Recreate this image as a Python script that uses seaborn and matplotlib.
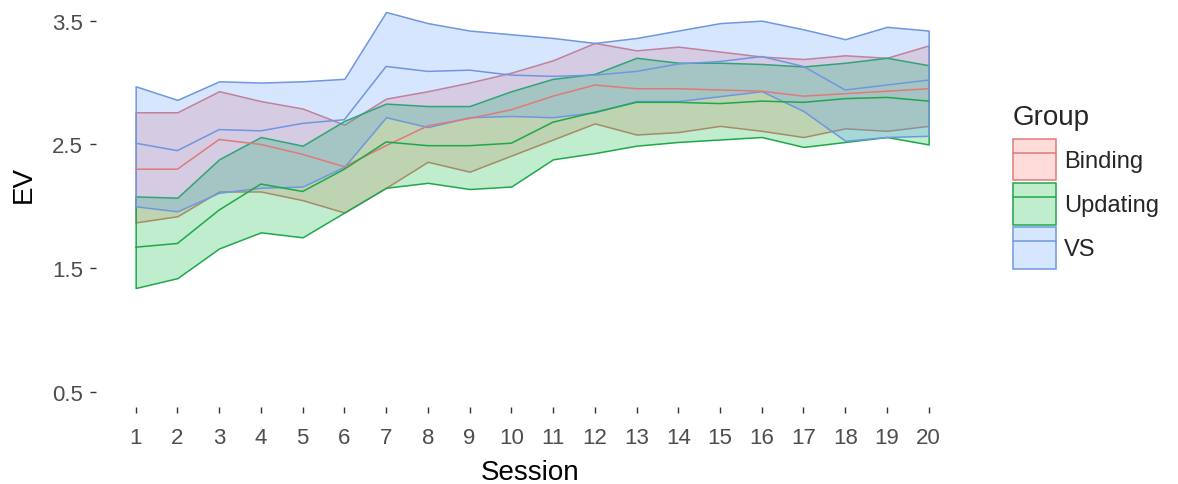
import pandas as pd
import matplotlib
matplotlib.use("Agg")
import matplotlib.pyplot as plt
import seaborn as sns
from matplotlib.patches import Patch
from matplotlib.lines import Line2D

# data
sessions = list(range(1, 21))
groups = ["Binding", "Updating", "VS"]
fill_colors = ["#F8766D", "#00BA38", "#619CFF"]
line_colors = ["#E07A7A", "#1FA84A", "#6F97E0"]

binding_mean = [2.30, 2.30, 2.54, 2.50, 2.42, 2.32, 2.49, 2.65, 2.71, 2.78,
                2.89, 2.98, 2.95, 2.95, 2.94, 2.93, 2.89, 2.91, 2.93, 2.95]
binding_upper = [2.76, 2.76, 2.93, 2.85, 2.79, 2.66, 2.87, 2.93, 3.00, 3.08,
                 3.18, 3.32, 3.26, 3.29, 3.25, 3.21, 3.19, 3.22, 3.20, 3.30]
binding_lower = [1.87, 1.92, 2.12, 2.12, 2.05, 1.95, 2.15, 2.36, 2.28, 2.41,
                 2.54, 2.67, 2.58, 2.60, 2.65, 2.61, 2.56, 2.63, 2.61, 2.65]

updating_mean = [1.67, 1.70, 1.97, 2.18, 2.12, 2.30, 2.52, 2.49, 2.49, 2.51,
                 2.68, 2.76, 2.84, 2.84, 2.83, 2.85, 2.84, 2.87, 2.88, 2.85]
updating_upper = [2.08, 2.07, 2.38, 2.56, 2.49, 2.69, 2.83, 2.81, 2.81, 2.93,
                  3.03, 3.07, 3.20, 3.16, 3.16, 3.15, 3.13, 3.16, 3.20, 3.14]
updating_lower = [1.34, 1.42, 1.66, 1.79, 1.75, 1.95, 2.15, 2.19, 2.14, 2.16,
                  2.38, 2.43, 2.49, 2.52, 2.54, 2.56, 2.48, 2.52, 2.56, 2.50]

vs_mean = [2.51, 2.45, 2.62, 2.61, 2.67, 2.70, 3.13, 3.09, 3.10, 3.06,
           3.05, 3.06, 3.09, 3.15, 3.17, 3.21, 3.13, 2.94, 2.98, 3.02]
vs_upper = [2.97, 2.86, 3.01, 3.00, 3.01, 3.03, 3.57, 3.48, 3.42, 3.39,
            3.36, 3.32, 3.36, 3.42, 3.48, 3.50, 3.43, 3.35, 3.45, 3.42]
vs_lower = [2.00, 1.96, 2.11, 2.15, 2.16, 2.32, 2.72, 2.64, 2.72, 2.73,
            2.72, 2.76, 2.85, 2.85, 2.89, 2.93, 2.77, 2.53, 2.56, 2.57]

y_ticks = [0.5, 1.5, 2.5, 3.5]

# long table
means = [binding_mean, updating_mean, vs_mean]
uppers = [binding_upper, updating_upper, vs_upper]
lowers = [binding_lower, updating_lower, vs_lower]
rows = []
for g, m, u, l in zip(groups, means, uppers, lowers):
    for s, mv, uv, lv in zip(sessions, m, u, l):
        rows.append({"Session": s, "EV": mv, "upper": uv, "lower": lv, "Group": g})
df = pd.DataFrame(rows)

sns.set_style("white")
plt.rcParams["font.family"] = ["Liberation Sans", "DejaVu Sans"]

fig, ax = plt.subplots(figsize=(11.78, 4.85), dpi=100)
fig.subplots_adjust(left=0.0815, right=0.822, bottom=0.159, top=0.986)

fill_pal = dict(zip(groups, fill_colors))
line_pal = dict(zip(groups, line_colors))

# ribbons
for g in groups:
    d = df[df["Group"] == g]
    ax.fill_between(d["Session"], d["lower"], d["upper"],
                    facecolor=(*matplotlib.colors.to_rgb(fill_pal[g]), 0.25),
                    edgecolor=line_pal[g], linewidth=1.1)

# mean lines
sns.lineplot(data=df, x="Session", y="EV", hue="Group", palette=line_pal,
             linewidth=1.1, legend=False, ax=ax)

ax.set_xlim(0.05, 20.95)
ax.set_ylim(0.38, 3.62)
ax.set_xticks(sessions)
ax.set_yticks(y_ticks)
ax.set_yticklabels([str(v) for v in y_ticks])
sns.despine(ax=ax, left=True, bottom=True)

ax.tick_params(axis="both", direction="out", length=4.5, width=1,
               color="#333333", labelsize=16, labelcolor="#4D4D4D")
ax.tick_params(axis="x", pad=10)
ax.tick_params(axis="y", pad=5)
ax.tick_params(left=True, bottom=True)

ax.set_xlabel("Session", fontsize=20, color="black")
ax.set_ylabel("EV", fontsize=20, color="black")
ax.xaxis.set_label_coords(0.498, -0.13)
ax.yaxis.set_label_coords(-0.068, 0.556)

handles = []
for g in groups:
    c = matplotlib.colors.to_rgb(fill_pal[g])
    handles.append((Patch(facecolor=(*c, 0.25), edgecolor=line_pal[g], linewidth=1.1),
                    Line2D([], [], color=line_pal[g], linewidth=1.1)))

leg = fig.legend(handles, groups, title="Group", loc="upper left",
                 bbox_to_anchor=(0.860, 0.783), frameon=False,
                 fontsize=17, title_fontsize=20, handlelength=1.8,
                 handleheight=2.35, labelspacing=0.1, handletextpad=0.35,
                 borderpad=0, borderaxespad=0, alignment="left")
leg._legend_box.sep = 6  # a bit more room under the title

fig.savefig("out.png", dpi=100)
